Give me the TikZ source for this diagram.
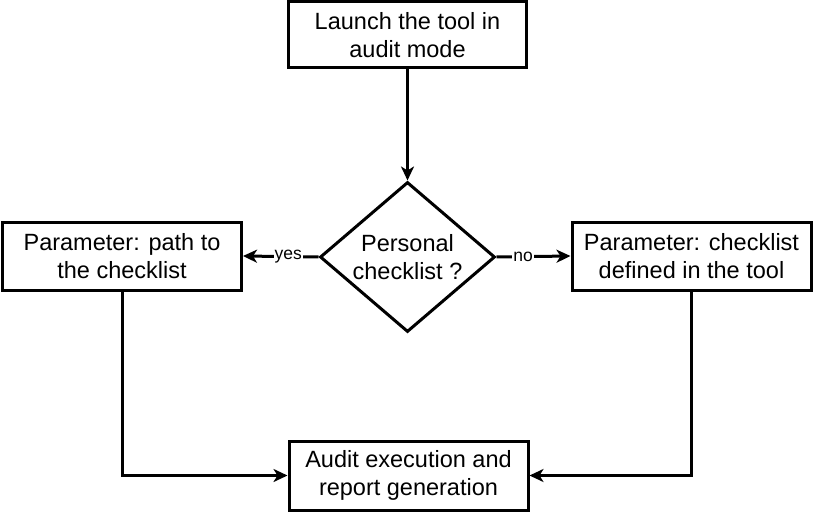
\documentclass[tikz,border=0pt]{standalone}
\usepackage{fontspec}
\setmainfont{Liberation Sans}
\usetikzlibrary{shapes.geometric,arrows.meta}
\begin{document}
\begin{tikzpicture}[x=1pt,y=-1pt,
  every node/.style={font=\fontsize{23.5}{28}\selectfont},
  box/.style={draw, line width=3pt, rectangle, align=center, inner sep=0pt, minimum width=239pt, minimum height=68pt},
  decision/.style={draw, line width=3pt, diamond, align=center, inner sep=0pt, aspect=1.17, minimum width=175pt, minimum height=150pt},
  flow/.style={line width=3pt, -{Stealth[length=14pt,width=13pt,inset=4pt]}},
  lbl/.style={fill=white, inner sep=1pt, font=\fontsize{17.5}{20}\selectfont}]
\useasboundingbox (0,0) rectangle (813,513);
\node[box, minimum width=238pt, minimum height=66pt] (launch) at (407.5,35) {Launch the tool in\\audit mode};
\node[decision] (dec) at (407.5,257) {Personal\\checklist ?};
\node[box] (path) at (122,256) {Parameter: path to\\the checklist};
\node[box] (defined) at (691.5,256) {Parameter: checklist\\defined in the tool};
\node[box, minimum height=69pt] (exec) at (408.5,475.5) {Audit execution and\\report generation};
\draw[flow] (launch.south) -- (dec.north);
\draw[flow] (dec.west) -- node[lbl, pos=0.4] (yes) {yes} (path.east);
\draw[flow] (dec.east) -- node[lbl, pos=0.36] (no) {no} (defined.west);
\draw[flow] (path.south) |- (exec.west);
\draw[flow] (defined.south) |- (exec.east);
\end{tikzpicture}
\end{document}
